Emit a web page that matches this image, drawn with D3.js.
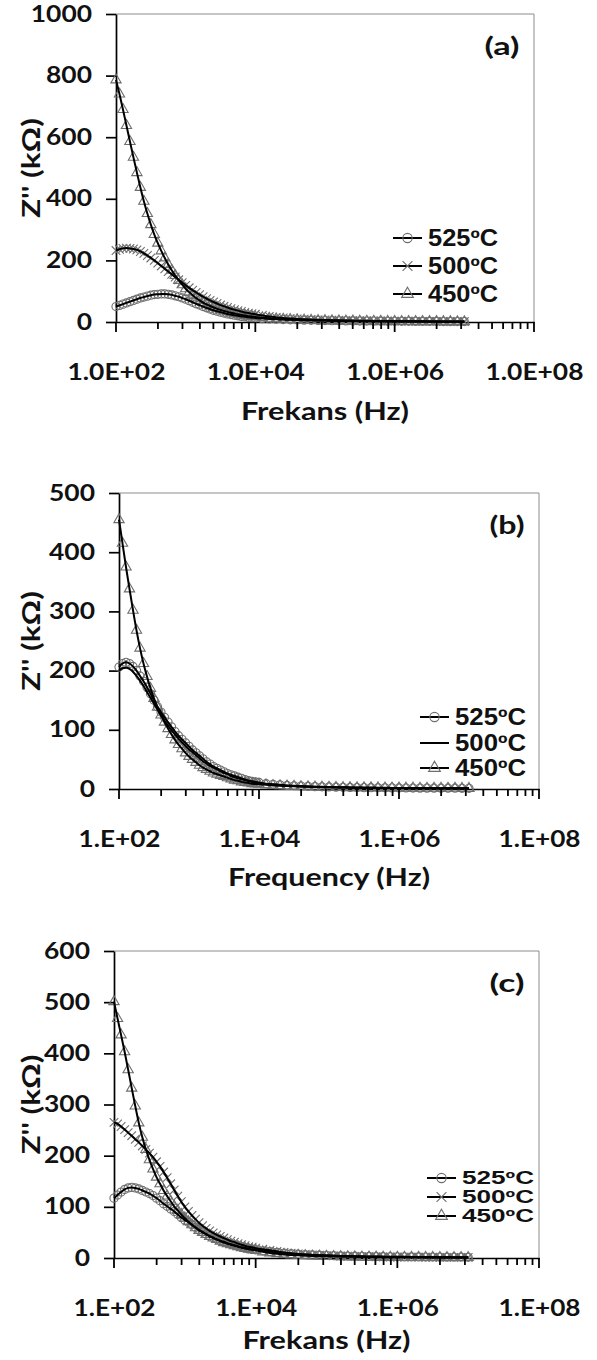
<!DOCTYPE html>
<html>
<head>
<meta charset="utf-8">
<script src="https://cdn.jsdelivr.net/npm/d3@7"></script>
<style>
  body { margin: 0; background: #fff; }
  text { font-family: Lato, "Open Sans", sans-serif; font-weight: bold; fill: #111; }
  .legend text { font-family: "Liberation Sans", Arial, sans-serif; }
</style>
</head>
<body>
<svg id="chart" width="597" height="1360"></svg>
<script>
// log10 of the measuring frequency (Hz), shared by every series
var freqExp = [
  2.00, 2.05, 2.10, 2.15, 2.20, 2.25, 2.30, 2.35, 2.40, 2.45,
  2.50, 2.55, 2.60, 2.65, 2.70, 2.75, 2.80, 2.85, 2.90, 2.95,
  3.00, 3.05, 3.10, 3.15, 3.20, 3.25, 3.30, 3.35, 3.40, 3.45,
  3.50, 3.55, 3.60, 3.65, 3.70, 3.75, 3.80, 3.85, 3.90, 3.95,
  4.00,
  4.1, 4.2, 4.3, 4.4, 4.5, 4.6, 4.7, 4.8, 4.9, 5.0,
  5.1, 5.2, 5.3, 5.4, 5.5, 5.6, 5.7, 5.8, 5.9, 6.0,
  6.1, 6.2, 6.3, 6.4, 6.5, 6.6, 6.7, 6.8, 6.9, 7.0
];

var seriesNames = ["525ºC", "500ºC", "450ºC"];

// Z'' (kOhm), panel (a)
var a525 = [50, 54, 58, 62, 66, 70, 74, 78, 81, 84, 87, 89, 90, 91, 91, 90, 88, 85, 82, 78,
  74, 69, 64, 59, 55, 50, 46, 42, 38, 35, 32, 29, 26, 24, 22, 20, 18, 17, 15, 14, 13,
  11, 10, 9, 8, 7, 6.5, 6, 5.5, 5, 4.6, 4.3, 4, 3.7, 3.4, 3.2, 3, 2.8, 2.6, 2.4, 2.3,
  2.2, 2.1, 2.0, 1.9, 1.8, 1.7, 1.6, 1.5, 1.4, 1.3];
var a500 = [232, 236, 239, 240, 239, 237, 234, 229, 223, 216, 208, 200, 191, 182, 173, 164, 155, 146, 137, 128,
  119, 111, 103, 96, 89, 82, 76, 70, 65, 60, 55, 51, 47, 43, 40, 37, 34, 31, 29, 27, 25,
  21, 18, 15, 13, 11, 10, 9, 8, 7, 6.5, 6, 5.5, 5, 4.6, 4.2, 3.9, 3.6, 3.3, 3.1, 2.9,
  2.7, 2.5, 2.3, 2.2, 2.0, 1.9, 1.8, 1.7, 1.6, 1.5];
var a450 = [786, 740, 690, 638, 586, 535, 485, 437, 392, 352, 316, 284, 256, 231, 208, 187, 168, 151, 135, 121,
  108, 97, 87, 78, 70, 63, 57, 52, 47, 43, 39, 36, 33, 30, 28, 25, 23, 21, 19, 18, 16,
  14, 12, 10, 9, 8, 7, 6, 5.5, 5, 4.5, 4, 3.6, 3.3, 3, 2.8, 2.6, 2.4, 2.2, 2, 1.9,
  1.8, 1.7, 1.6, 1.5, 1.4, 1.3, 1.2, 1.1, 1.0, 1.0];

// panel (b)
var b525 = [206, 212, 214, 212, 207, 200, 191, 182, 172, 161, 150, 139, 130, 121, 113, 105, 97, 90, 84, 78,
  72, 66, 61, 56, 51, 46, 42, 38, 35, 32, 29, 26, 24, 22, 20, 18, 16, 14, 13, 12, 11,
  9, 8, 7, 6, 5.5, 5, 4.5, 4, 3.7, 3.4, 3.1, 2.9, 2.7, 2.5, 2.3, 2.2, 2.1, 2.0, 1.9, 1.8,
  1.7, 1.6, 1.5, 1.5, 1.4, 1.4, 1.3, 1.3, 1.2, 1.2];
var b500 = [200, 204, 205, 203, 198, 191, 183, 174, 164, 154, 144, 134, 124, 115, 107, 99, 92, 85, 79, 73,
  67, 62, 57, 52, 47, 43, 39, 36, 33, 30, 27, 25, 22, 20, 18, 17, 15, 14, 12, 11, 10,
  8.5, 7.5, 6.5, 5.7, 5, 4.5, 4, 3.6, 3.3, 3.0, 2.8, 2.6, 2.4, 2.2, 2.1, 2.0, 1.9, 1.8, 1.7, 1.6,
  1.5, 1.4, 1.4, 1.3, 1.3, 1.2, 1.2, 1.1, 1.1, 1.0];
var b450 = [455, 415, 375, 338, 302, 268, 238, 212, 190, 170, 153, 138, 125, 113, 102, 92, 83, 75, 68, 61,
  55, 50, 45, 40, 36, 33, 30, 27, 25, 23, 21, 19, 17, 15, 14, 12, 11, 10, 9, 8.5, 8,
  7, 6, 5.5, 5, 4.5, 4, 3.7, 3.4, 3.1, 2.9, 2.7, 2.5, 2.3, 2.2, 2.1, 2.0, 1.9, 1.8, 1.7, 1.6,
  1.5, 1.4, 1.3, 1.3, 1.2, 1.2, 1.1, 1.1, 1.0, 1.0];

// panel (c)
var c525 = [117, 123, 129, 134, 137, 138, 137, 135, 132, 129, 126, 122, 117, 112, 106, 101, 96, 91, 85, 79,
  74, 70, 65, 60, 55, 51, 47, 43, 40, 37, 34, 32, 29, 27, 25, 23, 21, 20, 18, 17, 16,
  14, 12.5, 11, 9.5, 8.5, 7.5, 6.5, 6, 5.4, 5, 4.5, 4.1, 3.8, 3.5, 3.2, 3, 2.8, 2.6, 2.4, 2.3,
  2.2, 2.1, 2.0, 1.9, 1.8, 1.7, 1.6, 1.5, 1.5, 1.4];
var c500 = [265, 262, 257, 251, 245, 239, 232, 226, 219, 212, 205, 197, 188, 179, 168, 157, 145, 133, 121, 110,
  100, 91, 83, 76, 69, 63, 58, 53, 49, 45, 42, 39, 36, 33, 31, 28, 26, 24, 22, 21, 19,
  17, 15, 13, 11, 9.5, 8, 7, 6, 5.3, 4.7, 4.2, 3.8, 3.4, 3.1, 2.8, 2.6, 2.4, 2.2, 2.0, 1.9,
  1.8, 1.7, 1.6, 1.5, 1.4, 1.3, 1.3, 1.2, 1.2, 1.1];
var c450 = [501, 468, 436, 403, 368, 332, 297, 264, 236, 212, 192, 174, 158, 145, 132, 121, 111, 101, 93, 85,
  78, 71, 65, 59, 54, 50, 46, 42, 39, 36, 33, 30, 28, 26, 24, 22, 20, 18.5, 17, 16, 15,
  12, 10, 8.5, 7, 6, 5.2, 4.6, 4, 3.6, 3.2, 2.9, 2.6, 2.4, 2.2, 2.0, 1.9, 1.8, 1.7, 1.6, 1.5,
  1.4, 1.3, 1.3, 1.2, 1.2, 1.1, 1.1, 1.0, 1.0, 1.0];

var xMajor = [1e2, 1e4, 1e6, 1e8];
var xLabelsLong = ["1.0E+02", "1.0E+04", "1.0E+06", "1.0E+08"];
var xLabelsShort = ["1.E+02", "1.E+04", "1.E+06", "1.E+08"];
var yTicksA = [0, 200, 400, 600, 800, 1000];
var yTicksB = [0, 100, 200, 300, 400, 500];
var yTicksC = [0, 100, 200, 300, 400, 500, 600];

var freqHz = freqExp.map(function(e) { return Math.pow(10, e); });

var panels = [
  { tag: "(a)", left: 116, right: 534, top: 14, bottom: 322, yTicks: yTicksA,
    xLabels: xLabelsLong, xLabelW: 98, xTitle: "Frekans (Hz)", xTitleW: 168, titleDy: 88,
    series: [a525, a500, a450], marks: ["circle", "times", "triangle"],
    legX: 393, legRows: [238, 266, 294], legFont: 23, legW: 70 },
  { tag: "(b)", left: 119, right: 539, top: 493, bottom: 789, yTicks: yTicksB,
    xLabels: xLabelsShort, xLabelW: 82, xTitle: "Frequency (Hz)", xTitleW: 202, titleDy: 87,
    series: [b525, b500, b450], marks: ["circle", null, "triangle"],
    legX: 420, legRows: [717, 743, 768], legFont: 23, legW: 71 },
  { tag: "(c)", left: 114, right: 539, top: 951, bottom: 1258, yTicks: yTicksC,
    xLabels: xLabelsShort, xLabelW: 82, xTitle: "Frekans (Hz)", xTitleW: 168, titleDy: 81,
    series: [c525, c500, c450], marks: ["circle", "times", "triangle"],
    legX: 427, legRows: [1178, 1197, 1216], legFont: 18, legW: 72 }
];

var symbolTypes = { circle: d3.symbolCircle, times: d3.symbolTimes, triangle: d3.symbolTriangle };
var symbolSizes = { circle: 52, times: 50, triangle: 46 };
var markGray = "#6e6e6e";

var svg = d3.select("#chart");

function stretch(sel, w) {
  sel.each(function() {
    var t = d3.select(this);
    var len = w || this.getComputedTextLength() * 1.2;
    t.attr("textLength", len).attr("lengthAdjust", "spacingAndGlyphs");
  });
}

panels.forEach(function(p) {
  var x = d3.scaleLog().domain([1e2, 1e8]).range([p.left, p.right]);
  var y = d3.scaleLinear().domain([0, d3.max(p.yTicks)]).range([p.bottom, p.top]);
  var g = svg.append("g");

  // grey plot-area frame on top and right
  g.append("path")
    .attr("d", "M" + x.range()[0] + "," + y.range()[1] + "H" + x.range()[1] + "V" + y.range()[0])
    .attr("fill", "none").attr("stroke", "#8c8c8c").attr("stroke-width", 1);

  var xAxis = g.append("g")
    .attr("transform", "translate(0," + p.bottom + ")")
    .call(d3.axisBottom(x).tickValues(xMajor).tickSize(0).tickSizeOuter(0)
      .tickFormat(function(d, i) { return p.xLabels[i]; }));
  xAxis.select(".domain").attr("stroke", "#000").attr("stroke-width", 1.7);
  xAxis.selectAll("text")
    .attr("y", 50).attr("dy", "0.35em")
    .attr("font-size", 22).attr("font-family", null).attr("fill", "#111");
  stretch(xAxis.selectAll("text"), p.xLabelW);

  var yAxis = g.append("g")
    .attr("transform", "translate(" + p.left + ",0)")
    .call(d3.axisLeft(y).tickValues(p.yTicks).tickSize(10).tickPadding(14).tickSizeOuter(0)
      .tickFormat(d3.format("d")));
  yAxis.select(".domain").attr("stroke", "#000").attr("stroke-width", 1.7);
  yAxis.selectAll(".tick line").attr("stroke", "#000").attr("stroke-width", 1.7);
  yAxis.selectAll("text")
    .attr("font-size", 22).attr("font-family", null).attr("fill", "#111");
  stretch(yAxis.selectAll("text"));

  // axis titles
  g.append("text")
    .attr("x", (p.left + p.right) / 2).attr("y", p.bottom + p.titleDy)
    .attr("text-anchor", "middle").attr("dominant-baseline", "central")
    .attr("font-size", 25).text(p.xTitle)
    .call(stretch, p.xTitleW);
  g.append("text")
    .attr("transform", "translate(30," + ((p.top + p.bottom) / 2) + ") rotate(-90)")
    .attr("text-anchor", "middle").attr("dominant-baseline", "central")
    .attr("font-size", 24).text("Z'' (kΩ)")
    .call(stretch, 100);

  // panel tag
  g.append("text")
    .attr("x", p.right - 32).attr("y", p.top + 31)
    .attr("text-anchor", "middle").attr("dominant-baseline", "central")
    .attr("font-size", 24).text(p.tag)
    .call(stretch, 35);

  // markers first, fitted lines on top
  var line = d3.line()
    .x(function(d, i) { return x(freqHz[i]); })
    .y(function(d) { return y(d); })
    .curve(d3.curveMonotoneX);

  p.series.forEach(function(vals, s) {
    var m = p.marks[s];
    if (!m) return;
    g.append("g").selectAll("path")
      .data(vals)
      .join("path")
      .attr("transform", function(d, i) { return "translate(" + x(freqHz[i]) + "," + y(d) + ")"; })
      .attr("d", d3.symbol().type(symbolTypes[m]).size(symbolSizes[m]))
      .attr("fill", "none").attr("stroke", markGray).attr("stroke-width", 1.1);
  });
  p.series.forEach(function(vals) {
    g.append("path")
      .datum(vals)
      .attr("d", line)
      .attr("fill", "none").attr("stroke", "#000").attr("stroke-width", 2);
  });

  // x ticks drawn last: majors plus Excel-style minors (log k of each major step)
  var minors = [];
  xMajor.slice(0, -1).forEach(function(m) {
    d3.range(2, 10).forEach(function(k) { minors.push(m * k * k); });
  });
  var tickG = g.append("g").attr("stroke", "#000").attr("stroke-width", 1.8);
  tickG.selectAll("line.minor")
    .data(minors)
    .join("line").attr("class", "minor")
    .attr("x1", function(d) { return x(d); }).attr("x2", function(d) { return x(d); })
    .attr("y1", p.bottom).attr("y2", p.bottom + 7);
  tickG.selectAll("line.major")
    .data(xMajor)
    .join("line").attr("class", "major")
    .attr("x1", function(d) { return x(d); }).attr("x2", function(d) { return x(d); })
    .attr("y1", p.bottom).attr("y2", p.bottom + 10);

  // legend
  var leg = g.append("g").attr("class", "legend");
  seriesNames.forEach(function(name, s) {
    var ry = p.legRows[s];
    leg.append("line")
      .attr("x1", p.legX).attr("x2", p.legX + 29).attr("y1", ry).attr("y2", ry)
      .attr("stroke", "#000").attr("stroke-width", 2);
    var m = p.marks[s];
    if (m) {
      leg.append("path")
        .attr("transform", "translate(" + (p.legX + 14.5) + "," + ry + ")")
        .attr("d", d3.symbol().type(symbolTypes[m]).size(symbolSizes[m] * 1.3))
        .attr("fill", "none").attr("stroke", markGray).attr("stroke-width", 1.1);
    }
    leg.append("text")
      .attr("x", p.legX + 35).attr("y", ry)
      .attr("dominant-baseline", "central")
      .attr("font-size", p.legFont).text(name)
      .call(stretch, p.legW);
  });
});
</script>
</body>
</html>
